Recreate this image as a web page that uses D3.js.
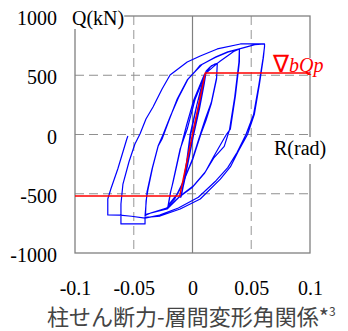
<!DOCTYPE html>
<html>
<head>
<meta charset="utf-8">
<script src="https://d3js.org/d3.v7.min.js"></script>
<style>
  body { margin: 0; background: #fff; }
  svg { display: block; }
</style>
</head>
<body>
<div id="chart"></div>
<script>
// axis ticks
const xTicks = [-0.1, -0.05, 0, 0.05, 0.1];
const yTicks = [1000, 500, 0, -500, -1000];
const xTickLabels = ["-0.1", "-0.05", "0", "0.05", "0.1"];
const yTickLabels = ["1000", "500", "0", "-500", "-1000"];

// hysteresis history [R (rad), Q (kN)], grouped by amplitude
const cycle01 = [
  [0,0],[0.004,180],[0.008,380],[0.0117,536],[0.010,430],[0.006,220],[0.001,0],
  [-0.003,-200],[-0.007,-400],[-0.0100,-530],[-0.008,-420],[-0.005,-230],[-0.002,0],
  [0.003,220],[0.008,420],[0.0115,530],[0.0095,420],[0.005,200],[0.0005,0],
  [-0.004,-240],[-0.0095,-520],[-0.0075,-400],[-0.004,-200],[-0.0015,0],
  [0.004,260],[0.0117,536]
];
const cycle02 = [
  [0.0117,536],[0.015,570],[0.019,595],[0.0211,600],
  [0.0205,480],[0.016,270],[0.0109,131],[0.0066,0],[0.0,-207],[-0.0062,-359],
  [-0.0105,-460],[-0.015,-540],[-0.0208,-603],
  [-0.0190,-500],[-0.0174,-435],[-0.0105,-122],[-0.0045,46],[0.0023,300],
  [0.0109,510],[0.016,580],[0.0211,600],
  [0.0205,470],[0.016,260],[0.0115,120],[0.007,0],[0.0,-215],[-0.007,-380],
  [-0.013,-500],[-0.0205,-595],[-0.0185,-480],[-0.0165,-400],[-0.010,-110],
  [-0.005,80],[0.001,290],[0.010,505],[0.0211,600]
];
const cycle04 = [
  [0.0211,600],[0.0237,620],[0.030,665],[0.035,700],[0.0399,722],
  [0.0399,612],[0.0365,325],[0.0322,46],[0.0288,0],[0.0178,-190],[0.0109,-316],
  [0.0006,-435],[-0.0105,-519],[-0.0216,-629],[-0.0387,-671],[-0.0404,-688],
  [-0.0387,-485],[-0.0344,-291],[-0.0293,-98],[-0.0259,-38],[-0.020,120],
  [-0.013,300],[-0.0045,460],[0.002,530],[0.0066,585],[0.0194,650],[0.030,695],[0.0399,722],
  [0.0395,610],[0.036,320],[0.0315,40],[0.027,-100],[0.018,-200],[0.010,-330],
  [0.0,-445],[-0.011,-525],[-0.022,-620],[-0.035,-660],[-0.040,-680],
  [-0.0395,-560],[-0.038,-470],[-0.034,-280],[-0.029,-90],[-0.025,0],[-0.019,150],
  [-0.012,310],[-0.004,465],[0.003,540],[0.008,590],[0.020,655],[0.030,698],[0.0399,722]
];
const cycle06 = [
  [0.0399,722],[0.0493,748],[0.0530,758],[0.0613,764],
  [0.0613,747],[0.0604,654],[0.0570,426],[0.0527,173],[0.0468,0],[0.0391,-139],
  [0.0322,-274],[0.0237,-376],[0.0066,-544],[-0.0105,-629],[-0.0276,-688],
  [-0.0404,-700],[-0.0404,-755],[-0.0609,-755],[-0.0609,-700],
  [-0.0609,-586],[-0.0592,-418],[-0.0541,-232],[-0.0490,-80],[-0.0447,4],
  [-0.0396,131],[-0.0336,232],[-0.0259,384],[-0.0191,502],[-0.0045,612],
  [0.0066,662],[0.0211,722],[0.0408,764],[0.0613,764],
  [0.0613,740],[0.0600,640],[0.0565,420],[0.0520,170],[0.0455,0],[0.038,-150],
  [0.030,-280],[0.020,-390],[0.005,-530],[-0.012,-620],[-0.028,-680],
  [-0.0404,-705],[-0.052,-690],[-0.0618,-680],[-0.0721,-679],
  [-0.0721,-544],[-0.0695,-460],[-0.0636,-291],[-0.0559,-38],[-0.0550,-13]
];
const cycles = [cycle01, cycle02, cycle04, cycle06];

// calculated shear capacity bQp
const bQp = 520;
const bQpR = 0.0109;
const bQpLine = [[-0.1,-bQp],[-bQpR,-bQp],[bQpR,bQp],[0.1,bQp]];

const serif = "'Liberation Serif', 'Times New Roman', serif";
const width = 348, height = 331;
const margin = {left: 75, right: 38, top: 16, bottom: 78};

const svg = d3.select("#chart").append("svg")
  .attr("width", width)
  .attr("height", height);

const x = d3.scaleLinear().domain([-0.1, 0.1]).range([margin.left, width - margin.right]);
const y = d3.scaleLinear().domain([-1000, 1000]).range([height - margin.bottom, margin.top]);

// grid
const gridX = [-0.05, 0.05], gridY = [500, 0, -500];
svg.append("g").selectAll("line").data(gridX).join("line")
  .attr("x1", d => x(d)).attr("x2", d => x(d))
  .attr("y1", y(1000)).attr("y2", y(-1000))
  .attr("stroke", "#a8a8a8").attr("stroke-width", 1.2).attr("stroke-dasharray", "9,5");
svg.append("g").selectAll("line").data(gridY).join("line")
  .attr("x1", x(-0.1)).attr("x2", x(0.1))
  .attr("y1", d => y(d)).attr("y2", d => y(d))
  .attr("stroke", "#909090").attr("stroke-width", 1.2).attr("stroke-dasharray", "9,5");
svg.append("line")
  .attr("x1", x(0)).attr("x2", x(0)).attr("y1", y(1000)).attr("y2", y(-1000))
  .attr("stroke", "#808080").attr("stroke-width", 1.2);

// frame
svg.append("rect")
  .attr("x", x(-0.1)).attr("y", y(1000))
  .attr("width", x(0.1) - x(-0.1)).attr("height", y(-1000) - y(1000))
  .attr("fill", "none").attr("stroke", "#808080").attr("stroke-width", 1.3);

// axes
svg.append("g")
  .attr("transform", `translate(${margin.left},0)`)
  .call(d3.axisLeft(y).tickValues(yTicks).tickSize(0).tickPadding(18)
    .tickFormat((d, i) => yTickLabels[i]))
  .call(g => g.select(".domain").remove())
  .call(g => g.selectAll("text")
    .attr("dy", "0.43em")
    .attr("font-family", serif).attr("font-size", 20).attr("fill", "#000"));

svg.append("g")
  .attr("transform", `translate(0,${height - margin.bottom})`)
  .call(d3.axisBottom(x).tickValues(xTicks).tickSize(0).tickPadding(28)
    .tickFormat((d, i) => xTickLabels[i]))
  .call(g => g.select(".domain").remove())
  .call(g => g.selectAll("text")
    .attr("font-family", serif).attr("font-size", 20).attr("fill", "#000"));

// loops
const line = d3.line().x(d => x(d[0])).y(d => y(d[1]));
svg.append("g").selectAll("path").data(cycles).join("path")
  .attr("d", line)
  .attr("fill", "none")
  .attr("stroke", "#0000ff")
  .attr("stroke-width", 1.2)
  .attr("stroke-linejoin", "round");

svg.append("path")
  .attr("d", line(bQpLine))
  .attr("fill", "none")
  .attr("stroke", "#ff0000")
  .attr("stroke-width", 1.5);

// labels on white boxes (the frame is hidden behind them)
function label(tx, ty, parts, color, top, bottom) {
  const g = svg.append("g");
  const bg = g.append("rect").attr("fill", "#fff");
  const t = g.append("text")
    .attr("x", tx).attr("y", ty)
    .attr("font-family", serif)
    .attr("font-size", 20)
    .attr("fill", color);
  parts.forEach(p => t.append("tspan")
    .attr("font-style", p.italic ? "italic" : "normal")
    .attr("font-size", p.size || 20)
    .text(p.s));
  const b = t.node().getBBox();
  bg.attr("x", b.x).attr("y", top).attr("width", b.width).attr("height", bottom - top);
}
label(72, 25, [{s: "Q(kN)"}], "#000", 8, 29);
label(274, 155, [{s: "R(rad)"}], "#000", 137, 164);
label(273, 72, [{s: "∇", size: 24}, {s: "bQp", italic: true}], "#ff0000", 58, 71);

// caption
const cap = svg.append("text")
  .attr("x", 47).attr("y", 324.5)
  .attr("font-family", "'Noto Sans CJK JP', sans-serif")
  .attr("font-size", 22)
  .attr("fill", "#444");
cap.append("tspan").text("柱せん断力-層間変形角関係*");
cap.append("tspan").attr("font-size", 12).attr("dy", -9).text("3");
</script>
</body>
</html>
